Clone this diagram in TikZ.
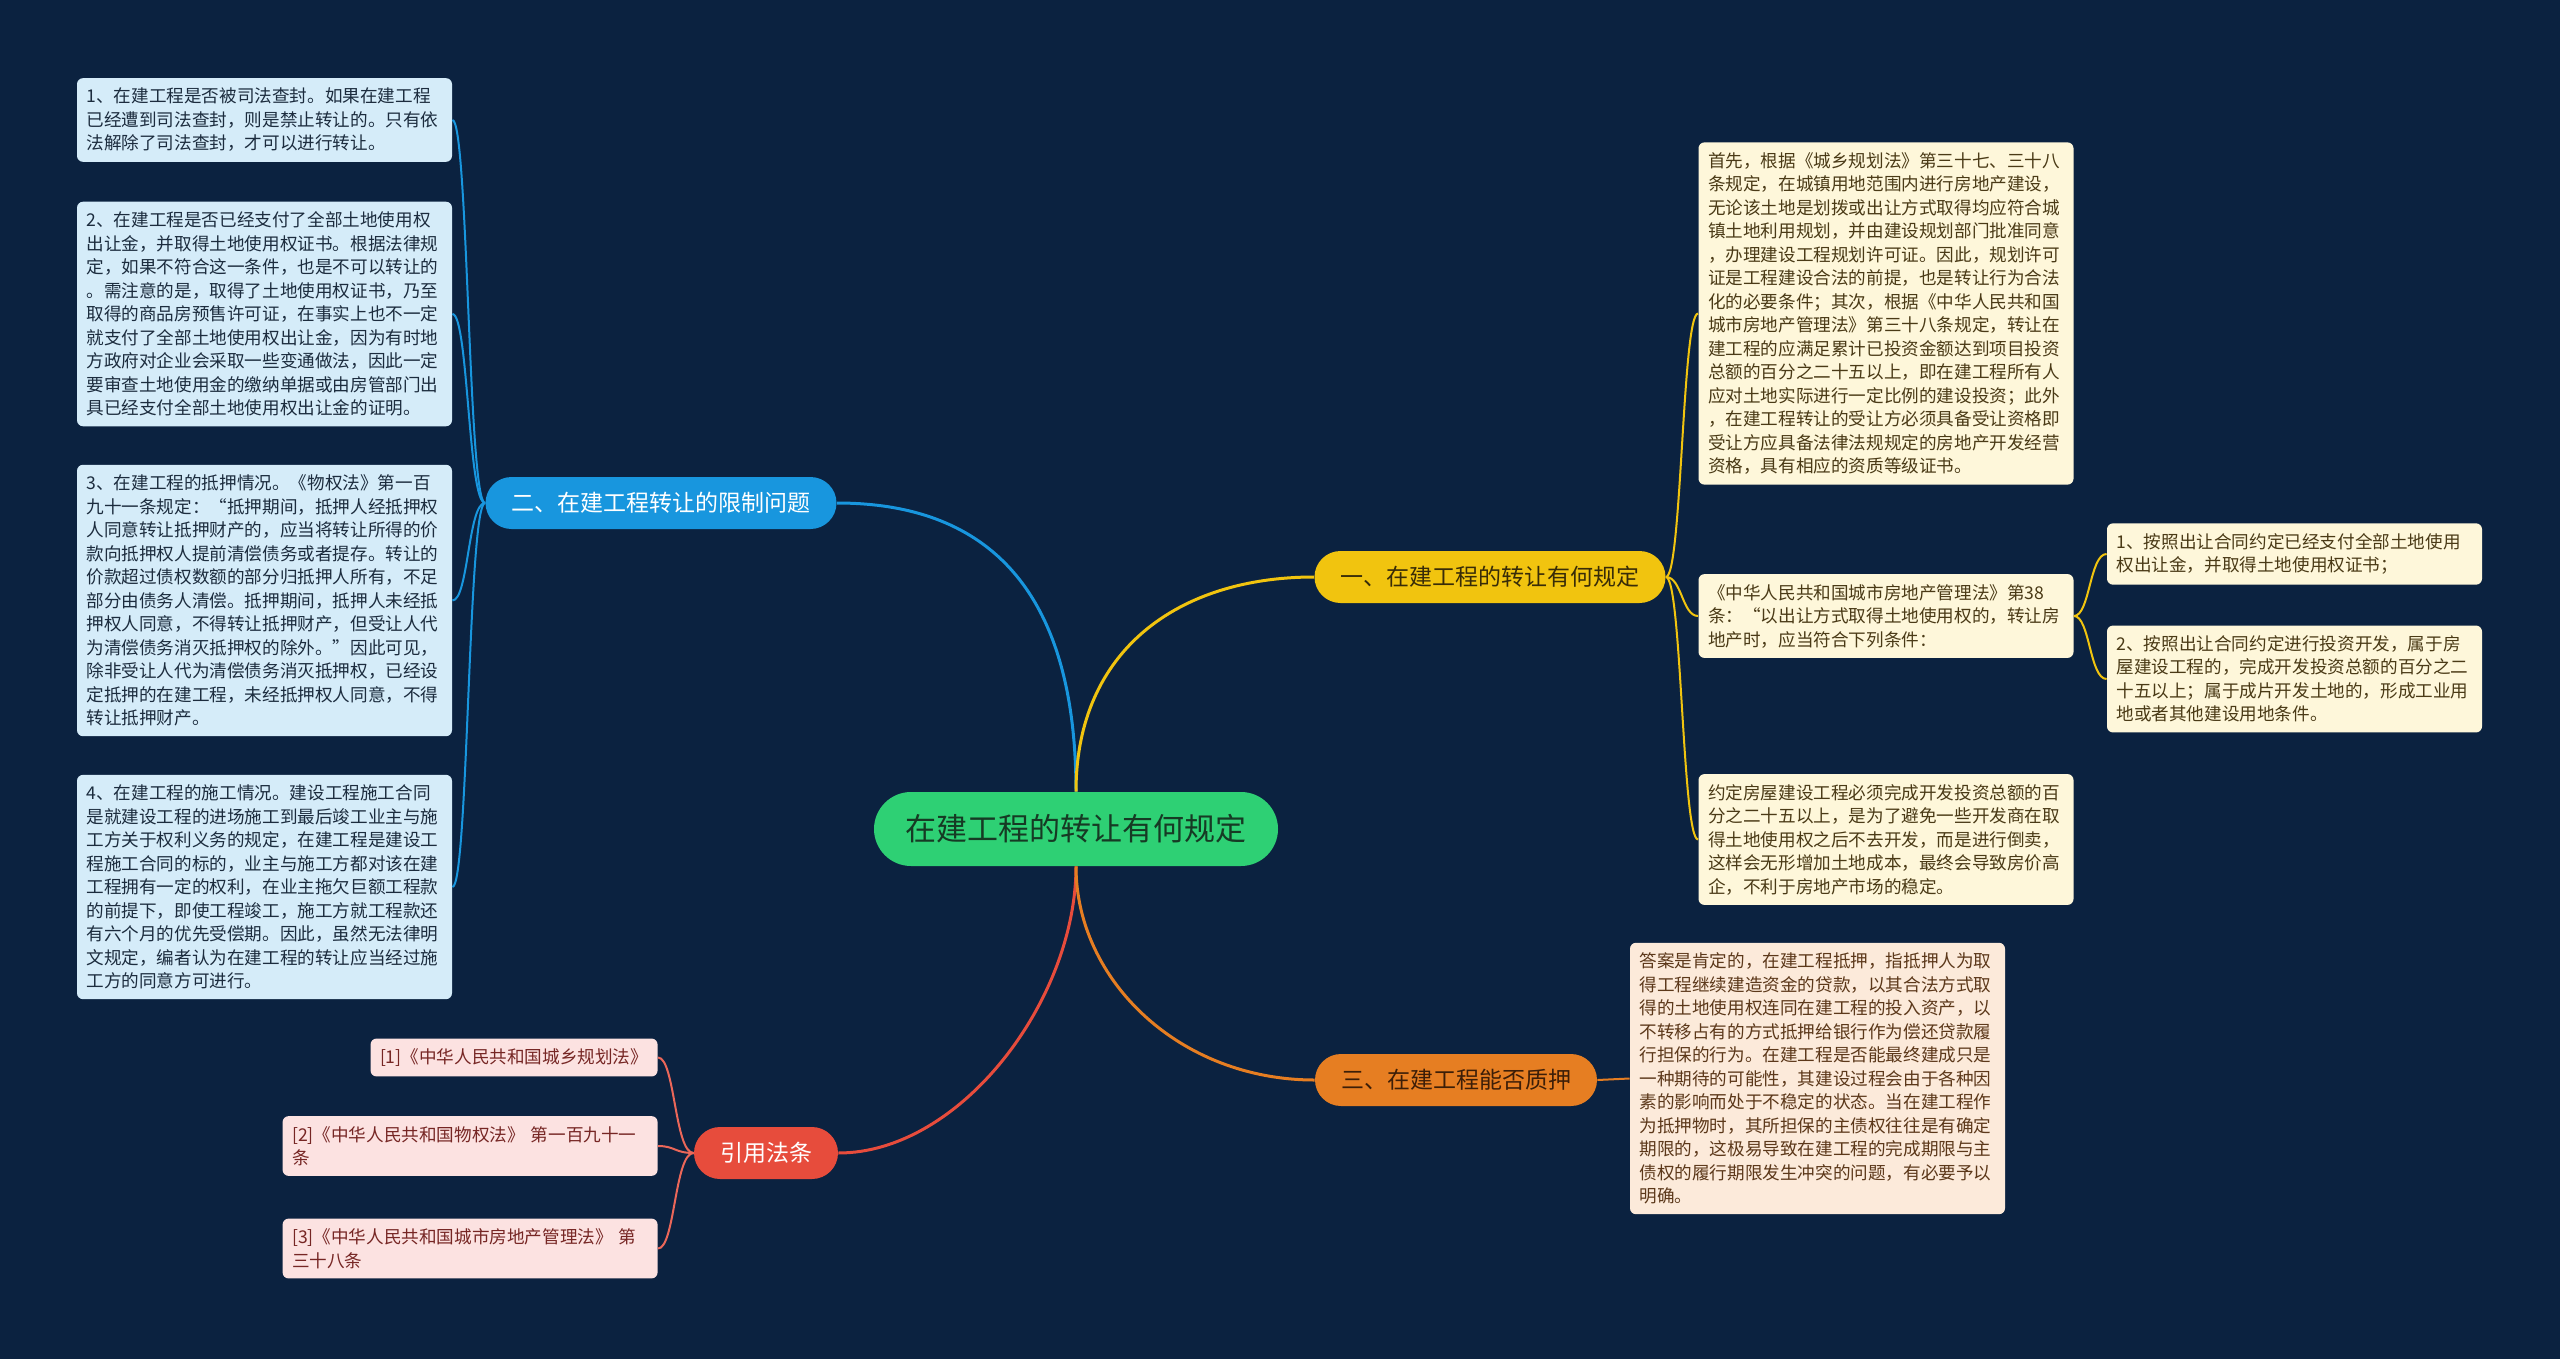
\documentclass[tikz,border=0pt]{standalone}
\usepackage{fontspec}
\setmainfont{Noto Sans CJK SC}
\definecolor{bgnavy}{RGB}{11,34,64}
\definecolor{rootgreen}{RGB}{46,208,116}
\definecolor{roottxt}{RGB}{22,58,36}
\definecolor{secblue}{RGB}{24,150,222}
\definecolor{secyellow}{RGB}{241,196,15}
\definecolor{secyellowtxt}{RGB}{56,44,8}
\definecolor{secorange}{RGB}{230,126,34}
\definecolor{secorangetxt}{RGB}{60,30,8}
\definecolor{secred}{RGB}{231,76,60}
\definecolor{leafblue}{RGB}{213,236,249}
\definecolor{leafbluetxt}{RGB}{28,44,62}
\definecolor{leafcream}{RGB}{254,247,218}
\definecolor{leafcreamtxt}{RGB}{74,58,22}
\definecolor{leafpeach}{RGB}{252,234,218}
\definecolor{leafpeachtxt}{RGB}{92,56,26}
\definecolor{leafpink}{RGB}{252,226,225}
\definecolor{leafpinktxt}{RGB}{118,38,36}
\tikzset{
  rootnode/.style={fill=rootgreen, text=roottxt, rounded corners=18.5pt, minimum height=37pt,
    minimum width=202pt, inner xsep=10pt, font=\fontsize{15.5}{17}\selectfont},
  branch/.style={rounded corners=13pt, minimum height=26pt, inner xsep=13pt,
    font=\fontsize{11.5}{13}\selectfont},
  leaf/.style={rounded corners=3pt, inner xsep=4.75pt, inner ysep=5pt, text width=178pt,
    align=left, font=\fontsize{8.8}{11.75}\selectfont},
  rootlink/.style={line width=1.5pt},
  leaflink/.style={line width=1pt},
}

\begin{document}
\begin{tikzpicture}[x=0.5pt, y=-0.5pt]

% === background ===
\fill[bgnavy] (0,0) rectangle (2560,1359);
\useasboundingbox (0,0) rectangle (2560,1359);

% === root and branches ===
\node[rootnode] (root) at (1076,829) {在建工程的转让有何规定};
\node[branch, fill=secyellow, text=secyellowtxt] (sec1) at (1490,577) {一、在建工程的转让有何规定};
\node[branch, fill=secblue, text=white] (sec2) at (661,503) {二、在建工程转让的限制问题};
\node[branch, fill=secorange, text=secorangetxt] (sec3) at (1456,1080) {三、在建工程能否质押};
\node[branch, fill=secred, text=white] (sec4) at (766,1153) {引用法条};

\draw[rootlink, draw=secblue] (root.north) .. controls +(0,-232) and +(122,0) .. (sec2.east);
\draw[rootlink, draw=secyellow] (root.north) .. controls +(0,-142) and +(-135,0) .. (sec1.west);
\draw[rootlink, draw=secred] (root.south) .. controls +(0,134) and +(122,0) .. (sec4.east);
\draw[rootlink, draw=secorange] (root.south) .. controls +(0,114) and +(-135,0) .. (sec3.west);

% === left: restrictions ===
\node[leaf, fill=leafblue, text=leafbluetxt] (lf1) at (264.5,120) {1、在建工程是否被司法查封。如果在建工程\\已经遭到司法查封，则是禁止转让的。只有依\\法解除了司法查封，才可以进行转让。};
\node[leaf, fill=leafblue, text=leafbluetxt] (lf2) at (264.5,314) {2、在建工程是否已经支付了全部土地使用权\\出让金，并取得土地使用权证书。根据法律规\\定，如果不符合这一条件，也是不可以转让的\\。需注意的是，取得了土地使用权证书，乃至\\取得的商品房预售许可证，在事实上也不一定\\就支付了全部土地使用权出让金，因为有时地\\方政府对企业会采取一些变通做法，因此一定\\要审查土地使用金的缴纳单据或由房管部门出\\具已经支付全部土地使用权出让金的证明。};
\node[leaf, fill=leafblue, text=leafbluetxt] (lf3) at (264.5,600.5) {3、在建工程的抵押情况。《物权法》第一百\\九十一条规定：“抵押期间，抵押人经抵押权\\人同意转让抵押财产的，应当将转让所得的价\\款向抵押权人提前清偿债务或者提存。转让的\\价款超过债权数额的部分归抵押人所有，不足\\部分由债务人清偿。抵押期间，抵押人未经抵\\押权人同意，不得转让抵押财产，但受让人代\\为清偿债务消灭抵押权的除外。”因此可见，\\除非受让人代为清偿债务消灭抵押权，已经设\\定抵押的在建工程，未经抵押权人同意，不得\\转让抵押财产。};
\node[leaf, fill=leafblue, text=leafbluetxt] (lf4) at (264.5,887) {4、在建工程的施工情况。建设工程施工合同\\是就建设工程的进场施工到最后竣工业主与施\\工方关于权利义务的规定，在建工程是建设工\\程施工合同的标的，业主与施工方都对该在建\\工程拥有一定的权利，在业主拖欠巨额工程款\\的前提下，即使工程竣工，施工方就工程款还\\有六个月的优先受偿期。因此，虽然无法律明\\文规定，编者认为在建工程的转让应当经过施\\工方的同意方可进行。};
\foreach \n in {lf1,lf2,lf3,lf4}
  \draw[leaflink, draw=secblue] (sec2.west) .. controls +(-17,0) and +(16,0) .. (\n.east);

% === right: rules ===
\node[leaf, fill=leafcream, text=leafcreamtxt] (rt1) at (1886,313.5) {首先，根据《城乡规划法》第三十七、三十八\\条规定，在城镇用地范围内进行房地产建设，\\无论该土地是划拨或出让方式取得均应符合城\\镇土地利用规划，并由建设规划部门批准同意\\，办理建设工程规划许可证。因此，规划许可\\证是工程建设合法的前提，也是转让行为合法\\化的必要条件；其次，根据《中华人民共和国\\城市房地产管理法》第三十八条规定，转让在\\建工程的应满足累计已投资金额达到项目投资\\总额的百分之二十五以上，即在建工程所有人\\应对土地实际进行一定比例的建设投资；此外\\，在建工程转让的受让方必须具备受让资格即\\受让方应具备法律法规规定的房地产开发经营\\资格，具有相应的资质等级证书。};
\node[leaf, fill=leafcream, text=leafcreamtxt] (rt2) at (1886,616) {《中华人民共和国城市房地产管理法》第38\\条：“以出让方式取得土地使用权的，转让房\\地产时，应当符合下列条件：};
\node[leaf, fill=leafcream, text=leafcreamtxt] (rt3) at (1886,839.5) {约定房屋建设工程必须完成开发投资总额的百\\分之二十五以上，是为了避免一些开发商在取\\得土地使用权之后不去开发，而是进行倒卖，\\这样会无形增加土地成本，最终会导致房价高\\企，不利于房地产市场的稳定。};
\node[leaf, fill=leafcream, text=leafcreamtxt] (rt2a) at (2294.5,554) {1、按照出让合同约定已经支付全部土地使用\\权出让金，并取得土地使用权证书；};
\node[leaf, fill=leafcream, text=leafcreamtxt] (rt2b) at (2294.5,679) {2、按照出让合同约定进行投资开发，属于房\\屋建设工程的，完成开发投资总额的百分之二\\十五以上；属于成片开发土地的，形成工业用\\地或者其他建设用地条件。};
\foreach \n in {rt1,rt2,rt3}
  \draw[leaflink, draw=secyellow] (sec1.east) .. controls +(16,0) and +(-16,0) .. (\n.west);
\foreach \n in {rt2a,rt2b}
  \draw[leaflink, draw=secyellow] (rt2.east) .. controls +(16,0) and +(-17,0) .. (\n.west);

% === pledge ===
\node[leaf, fill=leafpeach, text=leafpeachtxt] (pl1) at (1817.5,1078.5) {答案是肯定的，在建工程抵押，指抵押人为取\\得工程继续建造资金的贷款，以其合法方式取\\得的土地使用权连同在建工程的投入资产，以\\不转移占有的方式抵押给银行作为偿还贷款履\\行担保的行为。在建工程是否能最终建成只是\\一种期待的可能性，其建设过程会由于各种因\\素的影响而处于不稳定的状态。当在建工程作\\为抵押物时，其所担保的主债权往往是有确定\\期限的，这极易导致在建工程的完成期限与主\\债权的履行期限发生冲突的问题，有必要予以\\明确。};
\draw[leaflink, draw=secorange] (sec3.east) -- (pl1.west);

% === cited laws ===
\node[leaf, text width=, fill=leafpink, text=leafpinktxt, anchor=east] (law1) at (658,1057.5) {[1]《中华人民共和国城乡规划法》};
\node[leaf, fill=leafpink, text=leafpinktxt, anchor=east] (law2) at (658,1146) {[2]《中华人民共和国物权法》 第一百九十一\\条};
\node[leaf, fill=leafpink, text=leafpinktxt, anchor=east] (law3) at (658,1248.5) {[3]《中华人民共和国城市房地产管理法》 第\\三十八条};
\foreach \n in {law1,law2,law3}
  \draw[leaflink, draw=secred!85!white] (sec4.west) .. controls +(-19,0) and +(17,0) .. (\n.east);

\end{tikzpicture}
\end{document}
